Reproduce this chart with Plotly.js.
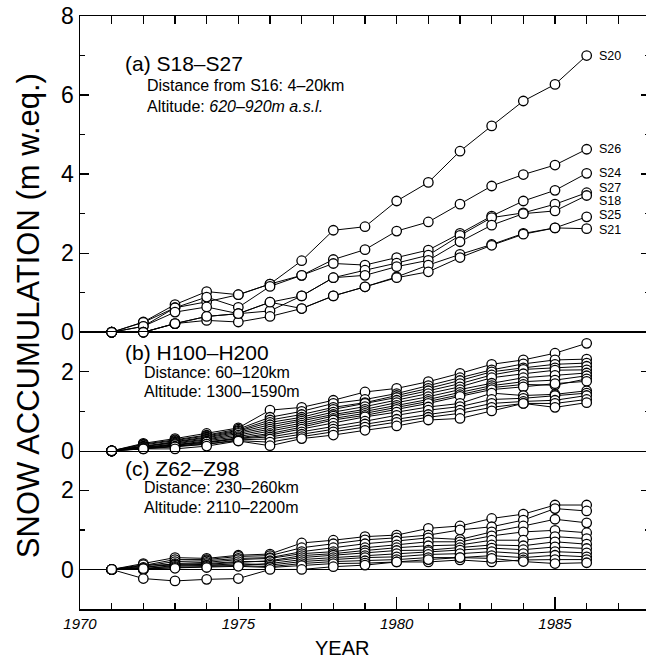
<!DOCTYPE html>
<html>
<head>
<meta charset="utf-8">
<script src="https://cdn.plot.ly/plotly-3.0.1.min.js"></script>
<style>
html,body{margin:0;padding:0;overflow:hidden;background:#fff;}
#chart{width:650px;height:663px;}
</style>
</head>
<body>
<div id="chart"></div>
<script>
// ---------- DATA ----------
const years = [1971,1972,1973,1974,1975,1976,1977,1978,1979,1980,1981,1982,1983,1984,1985,1986];

// Panel (a) S18–S27
const seriesNamesA = ['S20','S26','S24','S27','S18','S25','S21'];
const S20 = [0,0.26,0.70,1.03,0.95,1.22,1.81,2.58,2.67,3.32,3.79,4.58,5.22,5.85,6.27,7.00];
const S26 = [0,0.25,0.62,0.77,0.95,1.22,1.44,1.84,2.09,2.56,2.79,3.24,3.70,3.99,4.23,4.63];
const S24 = [0,0.15,0.62,0.89,0.63,1.16,1.44,1.74,1.70,1.89,2.08,2.50,2.94,3.32,3.59,4.02];
const S27 = [0,0.15,0.51,0.64,0.47,0.76,0.92,1.38,1.57,1.75,1.95,2.45,2.90,3.02,3.24,3.53];
const S18 = [0,0.00,0.22,0.40,0.47,0.54,0.92,1.38,1.44,1.66,1.82,2.29,2.71,3.00,3.07,3.46];
const S25 = [0,0.00,0.22,0.30,0.26,0.40,0.60,0.92,1.15,1.40,1.70,1.97,2.22,2.50,2.64,2.92];
const S21 = [0,0.00,0.22,0.40,0.47,0.76,0.60,0.92,1.15,1.38,1.53,1.89,2.20,2.48,2.64,2.62];

// Panel (b) H100–H200
const panelB = [
  [0,0.19,0.31,0.44,0.58,1.03,1.10,1.28,1.49,1.58,1.75,1.96,2.19,2.30,2.47,2.72],
  [0,0.17,0.28,0.40,0.55,0.85,1.00,1.20,1.30,1.45,1.65,1.85,2.05,2.20,2.30,2.32],
  [0,0.15,0.26,0.38,0.52,0.78,0.92,1.10,1.22,1.40,1.58,1.78,2.00,2.10,2.19,2.22],
  [0,0.12,0.24,0.35,0.50,0.72,0.85,1.05,1.20,1.35,1.52,1.70,1.92,2.06,2.10,2.14],
  [0,0.10,0.22,0.33,0.47,0.66,0.80,0.98,1.12,1.28,1.45,1.62,1.85,1.95,2.04,2.05],
  [0,0.12,0.20,0.30,0.44,0.60,0.75,0.92,1.05,1.22,1.37,1.55,1.71,1.85,1.91,1.97],
  [0,0.08,0.18,0.28,0.40,0.55,0.70,0.88,1.00,1.15,1.30,1.48,1.65,1.75,1.79,1.90],
  [0,0.06,0.15,0.25,0.36,0.50,0.65,0.82,0.95,1.10,1.25,1.42,1.60,1.68,1.66,1.82],
  [0,0.10,0.14,0.22,0.33,0.44,0.60,0.78,0.90,1.05,1.20,1.38,1.55,1.62,1.70,1.76],
  [0,0.06,0.12,0.20,0.31,0.40,0.55,0.70,0.86,0.98,1.11,1.20,1.46,1.40,1.43,1.52],
  [0,0.08,0.16,0.22,0.31,0.35,0.48,0.62,0.75,0.90,1.03,1.12,1.30,1.33,1.40,1.46],
  [0,0.05,0.12,0.17,0.28,0.30,0.42,0.55,0.68,0.80,0.92,1.03,1.20,1.25,1.28,1.40],
  [0,0.06,0.10,0.17,0.26,0.22,0.36,0.48,0.60,0.72,0.85,0.95,1.10,1.20,1.20,1.30],
  [0,0.05,0.05,0.12,0.25,0.13,0.31,0.40,0.52,0.63,0.78,0.82,1.01,1.20,1.10,1.22]
];

// Panel (c) Z62–Z98
const panelC = [
  [0,0.15,0.30,0.28,0.36,0.39,0.67,0.74,0.83,0.87,1.04,1.10,1.29,1.40,1.63,1.63],
  [0,0.10,0.25,0.25,0.33,0.35,0.55,0.65,0.75,0.80,0.87,1.00,1.08,1.25,1.54,1.48],
  [0,0.08,0.20,0.22,0.28,0.30,0.45,0.55,0.65,0.72,0.80,0.76,0.95,1.10,1.27,1.18],
  [0,0.05,0.15,0.18,0.25,0.28,0.40,0.45,0.55,0.62,0.70,0.70,0.85,0.95,0.99,0.93],
  [0,0.12,0.11,0.13,0.18,0.22,0.35,0.40,0.48,0.55,0.60,0.62,0.74,0.74,0.83,0.78],
  [0,0.05,0.13,0.15,0.20,0.20,0.30,0.36,0.42,0.48,0.49,0.55,0.62,0.60,0.70,0.64],
  [0,0.00,0.11,0.11,0.11,0.15,0.25,0.30,0.35,0.40,0.45,0.49,0.54,0.50,0.57,0.53],
  [0,0.03,0.08,0.10,0.15,0.11,0.20,0.25,0.30,0.32,0.38,0.40,0.45,0.40,0.45,0.42],
  [0,0.00,0.05,0.08,0.10,0.07,0.15,0.20,0.22,0.25,0.30,0.30,0.35,0.30,0.36,0.32],
  [0,0.02,0.03,0.05,0.08,0.05,0.10,0.15,0.16,0.19,0.19,0.24,0.19,0.24,0.25,0.25],
  [0,-0.23,-0.29,-0.25,-0.23,0.00,0.00,0.07,0.11,0.19,0.25,0.30,0.28,0.20,0.15,0.17]
];

// ---------- STYLE / BUILD ----------
const FONT = 'Liberation Sans, Arial, Helvetica, sans-serif';
const seriesA = [S20, S26, S24, S27, S18, S25, S21];
const labelShiftA = {S20:0, S26:0, S24:0, S27:5, S18:-6, S25:1.5, S21:-1.5};

function mk(vals, xa, ya) {
  return {
    x: years, y: vals, xaxis: xa, yaxis: ya,
    type: 'scatter', mode: 'lines+markers', cliponaxis: false,
    line: {color: '#000', width: 1},
    marker: {symbol: 'circle', size: 9.5, color: '#fff', line: {color: '#000', width: 1.3}},
    hoverinfo: 'skip', showlegend: false
  };
}

const traces = [];
seriesA.forEach(s => traces.push(mk(s, 'x', 'y')));
panelB.forEach(s => traces.push(mk(s, 'x2', 'y2')));
panelC.forEach(s => traces.push(mk(s, 'x3', 'y3')));

const annotations = [];
seriesNamesA.forEach((n, i) => {
  const s = seriesA[i];
  annotations.push({
    x: years[years.length - 1], y: s[s.length - 1], xref: 'x', yref: 'y',
    text: n, showarrow: false, xanchor: 'left', yanchor: 'middle',
    xshift: 10, yshift: labelShiftA[n], font: {family: FONT, size: 12.5, color: '#000'}
  });
});

function txt(t, x, y, xr, yr, size) {
  return {text: t, x: x, y: y, xref: xr, yref: yr, showarrow: false,
          xanchor: 'left', yanchor: 'middle', font: {family: FONT, size: size, color: '#000'}};
}
annotations.push(txt('(a) S18–S27', 1971.36, 6.81, 'x', 'y', 21));
annotations.push(txt('Distance from S16: 4–20km', 1972.05, 6.25, 'x', 'y', 16));
annotations.push(txt('Altitude: <i>620–920m a.s.l.</i>', 1972.05, 5.70, 'x', 'y', 16));
annotations.push(txt('(b) H100–H200', 1971.36, 2.50, 'x2', 'y2', 21));
annotations.push(txt('Distance: 60–120km', 1971.96, 1.97, 'x2', 'y2', 16));
annotations.push(txt('Altitude: 1300–1590m', 1971.96, 1.49, 'x2', 'y2', 16));
annotations.push(txt('(c) Z62–Z98', 1971.36, 2.56, 'x3', 'y3', 21));
annotations.push(txt('Distance: 230–260km', 1971.96, 2.08, 'x3', 'y3', 16));
annotations.push(txt('Altitude: 2110–2200m', 1971.96, 1.58, 'x3', 'y3', 16));

annotations.push({text: 'SNOW ACCUMULATION (m w.eq.)', xref: 'paper', yref: 'paper',
  x: -0.091, y: 0.494, textangle: -90, showarrow: false, xanchor: 'center', yanchor: 'middle',
  font: {family: FONT, size: 31, color: '#000'}});
annotations.push({text: 'YEAR', xref: 'paper', yref: 'paper',
  x: 0.46, y: -0.066, showarrow: false, xanchor: 'center', yanchor: 'middle',
  font: {family: FONT, size: 20, color: '#000'}});

const baseX = {range: [1970, 1988], showgrid: false, zeroline: false, linecolor: '#000', linewidth: 1.5};
const baseY = {showgrid: false, linecolor: '#000', linewidth: 1.5, showline: true, mirror: 'ticks',
  ticks: 'inside', ticklen: 9, tickwidth: 1.3, tickcolor: '#000',
  zeroline: true, zerolinecolor: '#000', zerolinewidth: 1.5,
  tickfont: {family: FONT, size: 23, color: '#000'},
  minor: {dtick: 1, ticks: 'inside', ticklen: 5, tickwidth: 1.2, tickcolor: '#000'}};

const layout = {
  width: 650, height: 663,
  margin: {l: 80, r: 0, t: 16, b: 54},
  paper_bgcolor: '#fff', plot_bgcolor: '#fff',
  font: {family: FONT, color: '#000'},
  showlegend: false,
  xaxis: Object.assign({}, baseX, {anchor: 'y', side: 'top', showline: true, ticks: 'inside',
    dtick: 1, tick0: 1970, ticklen: 8, tickwidth: 1.2, tickcolor: '#000', showticklabels: false}),
  xaxis2: Object.assign({}, baseX, {anchor: 'y2', showline: true, mirror: true, ticks: '', showticklabels: false}),
  xaxis3: Object.assign({}, baseX, {anchor: 'y3', showline: true, ticks: 'inside', dtick: 5, tick0: 1970,
    ticklen: 12, tickwidth: 1.3, tickcolor: '#000',
    tickfont: {family: FONT, size: 15, color: '#000', style: 'italic'},
    minor: {dtick: 1, ticks: 'inside', ticklen: 6, tickwidth: 1.2, tickcolor: '#000'}}),
  yaxis: Object.assign({}, baseY, {anchor: 'x', domain: [0.46667, 1], range: [0, 8], dtick: 2, tick0: 0}),
  yaxis2: Object.assign({}, baseY, {anchor: 'x2', domain: [0.26667, 0.46667], range: [0, 3], dtick: 2, tick0: 0}),
  yaxis3: Object.assign({}, baseY, {anchor: 'x3', domain: [0, 0.26667], range: [-1, 3], dtick: 2, tick0: 0}),
  annotations: annotations
};

Plotly.newPlot('chart', traces, layout, {staticPlot: true, displayModeBar: false});
</script>
</body>
</html>
